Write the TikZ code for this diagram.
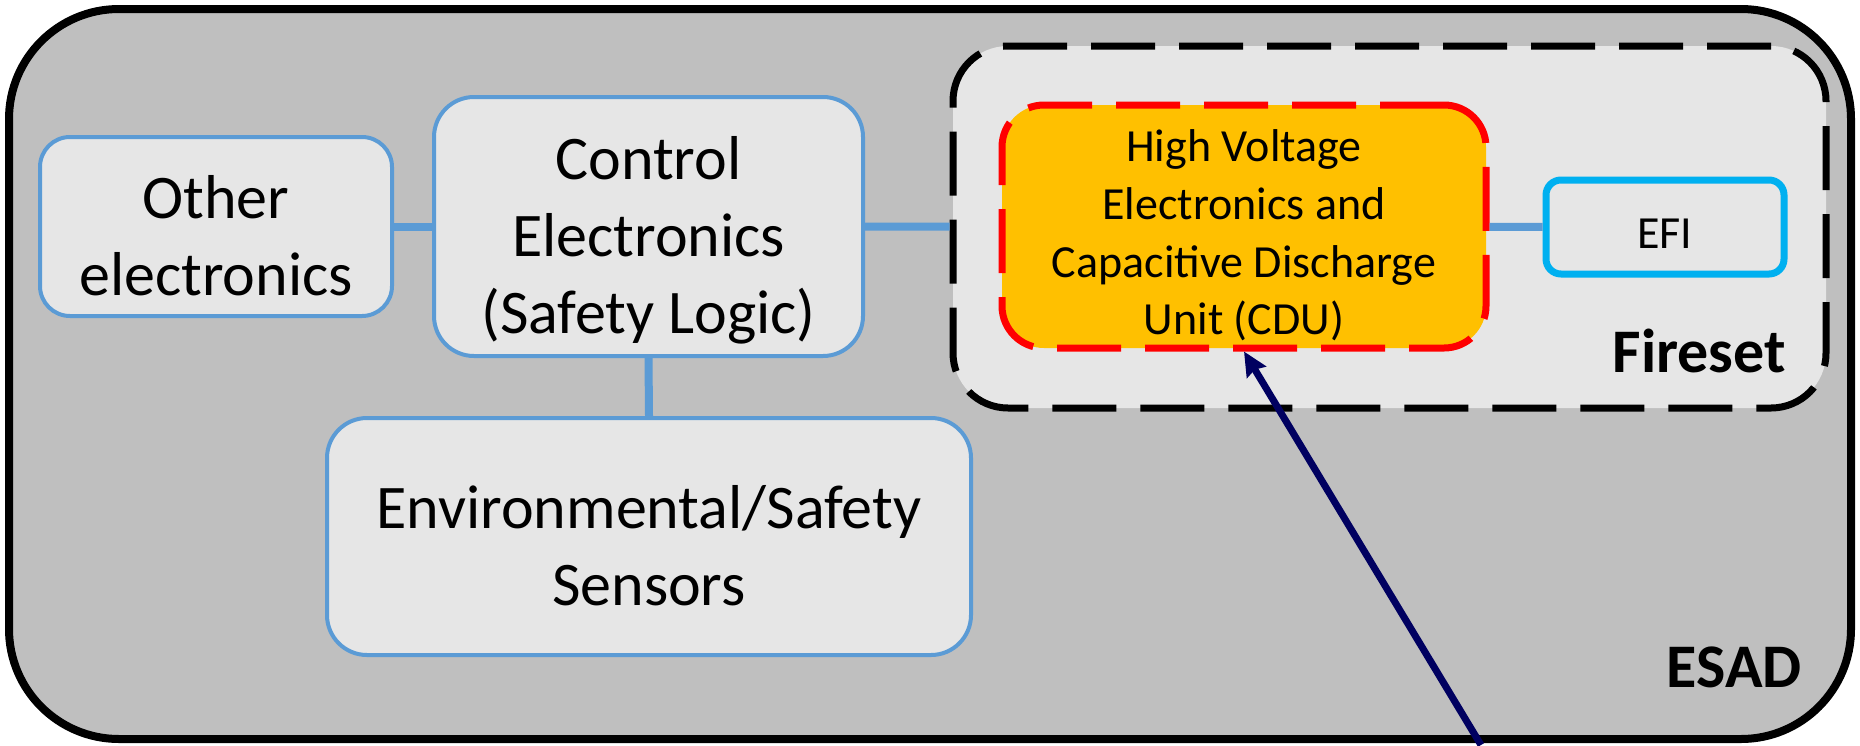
\documentclass[tikz,border=0pt]{standalone}
\usepackage{fontspec}
\setmainfont{Carlito}
\usepackage{tikz}
\usetikzlibrary{arrows.meta}

\definecolor{esadgray}{HTML}{BFBFBF}
\definecolor{boxgray}{HTML}{E6E6E6}
\definecolor{boxblue}{HTML}{5B9BD5}
\definecolor{cduorange}{HTML}{FFC000}
\definecolor{efiblue}{HTML}{00B0F0}
\definecolor{arrownavy}{HTML}{000060}

\newcommand{\boxfont}{\fontsize{62}{77}\selectfont}
\newcommand{\cdufont}{\fontsize{46}{57.7}\selectfont}
\newcommand{\boxlines}[2]{\raisebox{-#1}[\height][\depth]{\begin{tabular}{@{}c@{}}#2\end{tabular}}}

\begin{document}
\begin{tikzpicture}[x=1pt, y=-1pt,
		unit/.style={draw=boxblue, line width=4pt, fill=boxgray, rounded corners=40pt, font=\boxfont, inner sep=0pt},
		link/.style={draw=boxblue, line width=8pt},
		longdash/.style={dash pattern=on 64pt off 24pt}]
			\useasboundingbox (0, 0) rectangle (1860, 745);
			\filldraw[fill=esadgray, draw=black, line width=8pt, rounded corners=110pt] (9, 9) rectangle (1851, 739);
			\node[unit, rounded corners=30pt, minimum width=352pt, minimum height=179pt] (other) at (216, 226.5) {\boxlines{14.6pt}{Other\\electronics}};
			\node[unit, minimum width=429pt, minimum height=259pt] (ctrl) at (648.5, 226.5) {\boxlines{14.6pt}{Control\\Electronics\\(Safety Logic)}};
			\node[unit, minimum width=644pt, minimum height=237pt] (env) at (649, 536.5) {\boxlines{14.6pt}{Environmental/Safety\\Sensors}};
			\node[draw=black, fill=boxgray, line width=7pt, longdash, rounded corners=55pt, minimum width=873pt, minimum height=362pt] (fireset) at (1389.5, 227) {};
			\node[draw=red, fill=cduorange, line width=7pt, longdash, rounded corners=42pt, minimum width=484pt, minimum height=243pt, font=\cdufont, inner sep=0pt] (cdu) at (1244, 226.5) {\boxlines{10.2pt}{High Voltage\\Electronics and\\Capacitive Discharge\\Unit (CDU)}};
			\node[draw=efiblue, fill=boxgray, line width=7pt, rounded corners=15pt, minimum width=238pt, minimum height=94pt, font=\cdufont, inner sep=0pt] (efi) at (1665, 227) {\boxlines{10.2pt}{EFI}};
			\node[anchor=base east, font=\boxfont\bfseries, inner sep=0pt] (firesetlabel) at (1786, 372) {Fireset};
			\node[anchor=base east, font=\boxfont\bfseries, inner sep=0pt] (esadlabel) at (1802, 687) {ESAD};
			\draw[link] (other) -- (ctrl);
			\draw[link] (ctrl) -- (fireset);
			\draw[link] (ctrl.south) -- (env.north);
			\draw[link] (cdu) -- (efi);
			\coordinate (src) at (1481, 745);
			\draw[-{Stealth[length=24pt, width=22pt, inset=3pt]}, arrownavy, line width=7pt] (src) -- (cdu.south);
		\end{tikzpicture}
\end{document}
